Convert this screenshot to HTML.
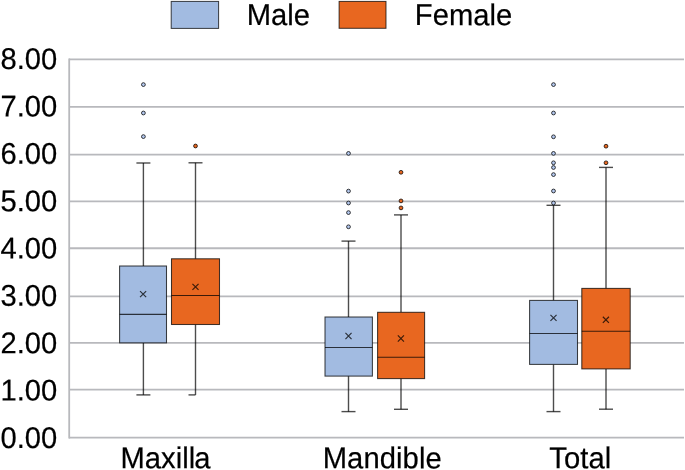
<!DOCTYPE html>
<html><head><meta charset="utf-8"><style>
html,body{margin:0;padding:0;background:#fff;}
body{width:685px;height:470px;overflow:hidden;}
svg{display:block;will-change:transform;}
text{text-rendering:geometricPrecision;font-family:"Liberation Sans",sans-serif;font-size:29.2px;fill:#000;stroke:#000;stroke-width:0.2px;}
</style></head><body>
<svg width="685" height="470" viewBox="0 0 685 470">
<rect width="685" height="470" fill="#fff"/>
<line x1="69" y1="437.62" x2="684" y2="437.62" stroke="#b8b9bd" stroke-width="1.8"/>
<line x1="69" y1="389.64" x2="684" y2="389.64" stroke="#b8b9bd" stroke-width="1.8"/>
<line x1="69" y1="342.94" x2="684" y2="342.94" stroke="#b8b9bd" stroke-width="1.8"/>
<line x1="69" y1="296.32" x2="684" y2="296.32" stroke="#b8b9bd" stroke-width="1.8"/>
<line x1="69" y1="248.26" x2="684" y2="248.26" stroke="#b8b9bd" stroke-width="1.8"/>
<line x1="69" y1="201.38" x2="684" y2="201.38" stroke="#b8b9bd" stroke-width="1.8"/>
<line x1="69" y1="154.70" x2="684" y2="154.70" stroke="#b8b9bd" stroke-width="1.8"/>
<line x1="69" y1="106.94" x2="684" y2="106.94" stroke="#b8b9bd" stroke-width="1.8"/>
<line x1="69" y1="59.38" x2="684" y2="59.38" stroke="#b8b9bd" stroke-width="1.8"/>
<line x1="69.2" y1="59.38" x2="69.2" y2="437.62" stroke="#b8b9bd" stroke-width="1.8" stroke-linecap="square"/>
<line x1="143.4" y1="163.0" x2="143.4" y2="266.0" stroke="#000" stroke-opacity="0.7" stroke-width="1.4"/>
<line x1="143.4" y1="342.85" x2="143.4" y2="394.9" stroke="#000" stroke-opacity="0.7" stroke-width="1.4"/>
<line x1="136.40" y1="163.0" x2="150.40" y2="163.0" stroke="#000" stroke-opacity="0.7" stroke-width="1.4"/>
<line x1="136.40" y1="394.9" x2="150.40" y2="394.9" stroke="#000" stroke-opacity="0.7" stroke-width="1.4"/>
<rect x="119.6" y="266.0" width="46.90" height="76.85" fill="#a2bbe1"/>
<rect x="119.6" y="266.0" width="46.90" height="76.85" fill="none" stroke="#000" stroke-opacity="0.74" stroke-width="1.05"/>
<line x1="119.6" y1="314.4" x2="166.5" y2="314.4" stroke="#000" stroke-opacity="0.74" stroke-width="1.1"/>
<path d="M140.05 291.05L146.15 297.15M140.05 297.15L146.15 291.05" stroke="#000" stroke-opacity="0.74" stroke-width="1.2" fill="none"/>
<circle cx="143.4" cy="84.6" r="1.9" fill="#b4c8ee" stroke="#000" stroke-opacity="0.74" stroke-width="1.0"/>
<circle cx="143.4" cy="113.0" r="1.9" fill="#b4c8ee" stroke="#000" stroke-opacity="0.74" stroke-width="1.0"/>
<circle cx="143.4" cy="136.6" r="1.9" fill="#b4c8ee" stroke="#000" stroke-opacity="0.74" stroke-width="1.0"/>
<line x1="195.5" y1="162.8" x2="195.5" y2="258.8" stroke="#000" stroke-opacity="0.7" stroke-width="1.4"/>
<line x1="195.5" y1="324.5" x2="195.5" y2="394.9" stroke="#000" stroke-opacity="0.7" stroke-width="1.4"/>
<line x1="188.50" y1="162.8" x2="202.50" y2="162.8" stroke="#000" stroke-opacity="0.7" stroke-width="1.4"/>
<line x1="188.50" y1="394.9" x2="195.50" y2="394.9" stroke="#000" stroke-opacity="0.7" stroke-width="1.4"/>
<rect x="171.5" y="258.8" width="48.00" height="65.70" fill="#e86720"/>
<rect x="171.5" y="258.8" width="48.00" height="65.70" fill="none" stroke="#000" stroke-opacity="0.74" stroke-width="1.05"/>
<line x1="171.5" y1="295.5" x2="219.5" y2="295.5" stroke="#000" stroke-opacity="0.74" stroke-width="1.1"/>
<path d="M192.45 283.85L198.55 289.95M192.45 289.95L198.55 283.85" stroke="#000" stroke-opacity="0.74" stroke-width="1.2" fill="none"/>
<circle cx="195.5" cy="146.0" r="1.9" fill="#e86720" stroke="#000" stroke-opacity="0.74" stroke-width="1.0"/>
<line x1="348.5" y1="241.1" x2="348.5" y2="317.0" stroke="#000" stroke-opacity="0.7" stroke-width="1.4"/>
<line x1="348.5" y1="376.1" x2="348.5" y2="411.6" stroke="#000" stroke-opacity="0.7" stroke-width="1.4"/>
<line x1="341.50" y1="241.1" x2="355.50" y2="241.1" stroke="#000" stroke-opacity="0.7" stroke-width="1.4"/>
<line x1="341.50" y1="411.6" x2="355.50" y2="411.6" stroke="#000" stroke-opacity="0.7" stroke-width="1.4"/>
<rect x="325.0" y="317.0" width="47.40" height="59.10" fill="#a2bbe1"/>
<rect x="325.0" y="317.0" width="47.40" height="59.10" fill="none" stroke="#000" stroke-opacity="0.74" stroke-width="1.05"/>
<line x1="325.0" y1="347.5" x2="372.4" y2="347.5" stroke="#000" stroke-opacity="0.74" stroke-width="1.1"/>
<path d="M345.45 332.95L351.55 339.05M345.45 339.05L351.55 332.95" stroke="#000" stroke-opacity="0.74" stroke-width="1.2" fill="none"/>
<circle cx="348.5" cy="153.4" r="1.9" fill="#b4c8ee" stroke="#000" stroke-opacity="0.74" stroke-width="1.0"/>
<circle cx="348.5" cy="191.1" r="1.9" fill="#b4c8ee" stroke="#000" stroke-opacity="0.74" stroke-width="1.0"/>
<circle cx="348.5" cy="203.0" r="1.9" fill="#b4c8ee" stroke="#000" stroke-opacity="0.74" stroke-width="1.0"/>
<circle cx="348.5" cy="212.6" r="1.9" fill="#b4c8ee" stroke="#000" stroke-opacity="0.74" stroke-width="1.0"/>
<circle cx="348.5" cy="226.8" r="1.9" fill="#b4c8ee" stroke="#000" stroke-opacity="0.74" stroke-width="1.0"/>
<line x1="401.0" y1="214.9" x2="401.0" y2="312.3" stroke="#000" stroke-opacity="0.7" stroke-width="1.4"/>
<line x1="401.0" y1="378.6" x2="401.0" y2="409.3" stroke="#000" stroke-opacity="0.7" stroke-width="1.4"/>
<line x1="394.00" y1="214.9" x2="408.00" y2="214.9" stroke="#000" stroke-opacity="0.7" stroke-width="1.4"/>
<line x1="394.00" y1="409.3" x2="408.00" y2="409.3" stroke="#000" stroke-opacity="0.7" stroke-width="1.4"/>
<rect x="377.6" y="312.3" width="47.00" height="66.30" fill="#e86720"/>
<rect x="377.6" y="312.3" width="47.00" height="66.30" fill="none" stroke="#000" stroke-opacity="0.74" stroke-width="1.05"/>
<line x1="377.6" y1="357.2" x2="424.6" y2="357.2" stroke="#000" stroke-opacity="0.74" stroke-width="1.1"/>
<path d="M397.85 335.45L403.95 341.55M397.85 341.55L403.95 335.45" stroke="#000" stroke-opacity="0.74" stroke-width="1.2" fill="none"/>
<circle cx="401.0" cy="172.3" r="1.9" fill="#e86720" stroke="#000" stroke-opacity="0.74" stroke-width="1.0"/>
<circle cx="401.0" cy="200.9" r="1.9" fill="#e86720" stroke="#000" stroke-opacity="0.74" stroke-width="1.0"/>
<circle cx="401.0" cy="207.9" r="1.9" fill="#e86720" stroke="#000" stroke-opacity="0.74" stroke-width="1.0"/>
<line x1="553.5" y1="205.3" x2="553.5" y2="300.4" stroke="#000" stroke-opacity="0.7" stroke-width="1.4"/>
<line x1="553.5" y1="364.4" x2="553.5" y2="411.6" stroke="#000" stroke-opacity="0.7" stroke-width="1.4"/>
<line x1="546.50" y1="205.3" x2="560.50" y2="205.3" stroke="#000" stroke-opacity="0.7" stroke-width="1.4"/>
<line x1="546.50" y1="411.6" x2="560.50" y2="411.6" stroke="#000" stroke-opacity="0.7" stroke-width="1.4"/>
<rect x="529.6" y="300.4" width="47.90" height="64.00" fill="#a2bbe1"/>
<rect x="529.6" y="300.4" width="47.90" height="64.00" fill="none" stroke="#000" stroke-opacity="0.74" stroke-width="1.05"/>
<line x1="529.6" y1="333.5" x2="577.5" y2="333.5" stroke="#000" stroke-opacity="0.74" stroke-width="1.1"/>
<path d="M550.45 314.85L556.55 320.95M550.45 320.95L556.55 314.85" stroke="#000" stroke-opacity="0.74" stroke-width="1.2" fill="none"/>
<circle cx="553.5" cy="84.6" r="1.9" fill="#b4c8ee" stroke="#000" stroke-opacity="0.74" stroke-width="1.0"/>
<circle cx="553.5" cy="113.0" r="1.9" fill="#b4c8ee" stroke="#000" stroke-opacity="0.74" stroke-width="1.0"/>
<circle cx="553.5" cy="136.8" r="1.9" fill="#b4c8ee" stroke="#000" stroke-opacity="0.74" stroke-width="1.0"/>
<circle cx="553.5" cy="153.4" r="1.9" fill="#b4c8ee" stroke="#000" stroke-opacity="0.74" stroke-width="1.0"/>
<circle cx="553.5" cy="162.8" r="1.9" fill="#b4c8ee" stroke="#000" stroke-opacity="0.74" stroke-width="1.0"/>
<circle cx="553.5" cy="167.5" r="1.9" fill="#b4c8ee" stroke="#000" stroke-opacity="0.74" stroke-width="1.0"/>
<circle cx="553.5" cy="174.6" r="1.9" fill="#b4c8ee" stroke="#000" stroke-opacity="0.74" stroke-width="1.0"/>
<circle cx="553.5" cy="191.0" r="1.9" fill="#b4c8ee" stroke="#000" stroke-opacity="0.74" stroke-width="1.0"/>
<circle cx="553.5" cy="203.0" r="1.9" fill="#b4c8ee" stroke="#000" stroke-opacity="0.74" stroke-width="1.0"/>
<line x1="606.0" y1="167.4" x2="606.0" y2="288.4" stroke="#000" stroke-opacity="0.7" stroke-width="1.4"/>
<line x1="606.0" y1="368.9" x2="606.0" y2="409.2" stroke="#000" stroke-opacity="0.7" stroke-width="1.4"/>
<line x1="599.00" y1="167.4" x2="613.00" y2="167.4" stroke="#000" stroke-opacity="0.7" stroke-width="1.4"/>
<line x1="599.00" y1="409.2" x2="613.00" y2="409.2" stroke="#000" stroke-opacity="0.7" stroke-width="1.4"/>
<rect x="581.8" y="288.4" width="48.40" height="80.50" fill="#e86720"/>
<rect x="581.8" y="288.4" width="48.40" height="80.50" fill="none" stroke="#000" stroke-opacity="0.74" stroke-width="1.05"/>
<line x1="581.8" y1="331.3" x2="630.2" y2="331.3" stroke="#000" stroke-opacity="0.74" stroke-width="1.1"/>
<path d="M602.85 316.75L608.95 322.85M602.85 322.85L608.95 316.75" stroke="#000" stroke-opacity="0.74" stroke-width="1.2" fill="none"/>
<circle cx="606.0" cy="146.2" r="1.9" fill="#e86720" stroke="#000" stroke-opacity="0.74" stroke-width="1.0"/>
<circle cx="606.0" cy="162.8" r="1.9" fill="#e86720" stroke="#000" stroke-opacity="0.74" stroke-width="1.0"/>
<text transform="translate(57.30,447.93) skewY(0.05) scale(1,1.03)" text-anchor="end">0.00</text>
<text transform="translate(57.30,400.58) skewY(0.05) scale(1,1.03)" text-anchor="end">1.00</text>
<text transform="translate(57.30,353.23) skewY(0.05) scale(1,1.03)" text-anchor="end">2.00</text>
<text transform="translate(57.30,305.89) skewY(0.05) scale(1,1.03)" text-anchor="end">3.00</text>
<text transform="translate(57.30,258.54) skewY(0.05) scale(1,1.03)" text-anchor="end">4.00</text>
<text transform="translate(57.30,211.19) skewY(0.05) scale(1,1.03)" text-anchor="end">5.00</text>
<text transform="translate(57.30,163.84) skewY(0.05) scale(1,1.03)" text-anchor="end">6.00</text>
<text transform="translate(57.30,116.49) skewY(0.05) scale(1,1.03)" text-anchor="end">7.00</text>
<text transform="translate(57.30,69.15) skewY(0.05) scale(1,1.03)" text-anchor="end">8.00</text>
<text transform="translate(120.56,468.30) skewY(0.05) scale(1,1.03)">Maxill<tspan dx="-0.8">a</tspan></text>
<text transform="translate(322.70,468.30) skewY(0.05) scale(1,1.03)" text-anchor="start" letter-spacing="0.08">Mandible</text>
<text transform="translate(549.36,468.30) skewY(0.05) scale(1,1.03)" text-anchor="start" letter-spacing="0.05">Total</text>
<rect x="171.2" y="1.4" width="47.4" height="27.0" fill="#a2bbe1" stroke="#000" stroke-opacity="0.74" stroke-width="1"/>
<text transform="translate(246.76,25.10) skewY(0.05) scale(1,1.03)" text-anchor="start">Male</text>
<rect x="339.1" y="1.4" width="46.9" height="26.9" fill="#e86720" stroke="#000" stroke-opacity="0.74" stroke-width="1"/>
<text transform="translate(414.86,25.10) skewY(0.05) scale(1,1.03)" text-anchor="start">Female</text>
</svg>
</body></html>
